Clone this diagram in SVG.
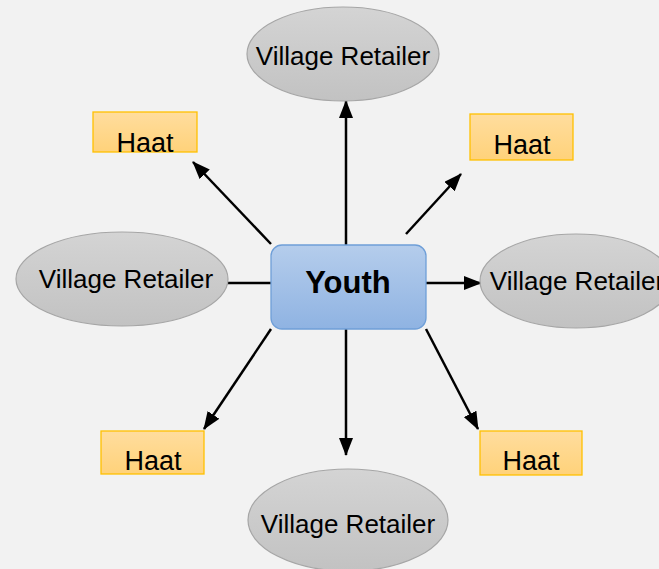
<svg xmlns="http://www.w3.org/2000/svg" width="659" height="569" viewBox="0 0 659 569">
<defs>
<linearGradient id="gGray" x1="0" y1="0" x2="0" y2="1"><stop offset="0" stop-color="#D4D4D4"/><stop offset="1" stop-color="#C2C2C2"/></linearGradient>
<linearGradient id="gOrange" x1="0" y1="0" x2="0" y2="1"><stop offset="0" stop-color="#FFDD9E"/><stop offset="1" stop-color="#FFD27A"/></linearGradient>
<linearGradient id="gBlue" x1="0" y1="0" x2="0" y2="1"><stop offset="0" stop-color="#B5CDEC"/><stop offset="1" stop-color="#8FB3E2"/></linearGradient>
<marker id="arr" markerUnits="userSpaceOnUse" markerWidth="18" markerHeight="14" viewBox="0 0 18 14" refX="17" refY="7" orient="auto"><path d="M0,0 L18,7 L0,14 Z" fill="#000"/></marker>
</defs>
<style>
.vr{fill:url(#gGray);stroke:#A6A6A6;stroke-width:1.2}
.hb{fill:url(#gOrange);stroke:#FFC000;stroke-width:1.3}
.t{font-family:"Liberation Sans",Arial,sans-serif;font-size:26px;fill:#000;text-anchor:middle}
.th{font-family:"Liberation Sans",Arial,sans-serif;font-size:27px;fill:#000;text-anchor:middle}
.c{stroke:#000;stroke-width:2.5;fill:none}
</style>
<rect width="659" height="569" fill="#F2F2F2"/>
<g id="connectors">
<line class="c" x1="346" y1="245" x2="346" y2="101" marker-end="url(#arr)"/>
<line class="c" x1="346" y1="329" x2="346" y2="455" marker-end="url(#arr)"/>
<line class="c" x1="426" y1="283" x2="481" y2="283" marker-end="url(#arr)"/>
<line class="c" x1="228" y1="283" x2="271" y2="283"/>
<line class="c" x1="271" y1="244" x2="193" y2="162" marker-end="url(#arr)"/>
<line class="c" x1="406" y1="234" x2="461" y2="174" marker-end="url(#arr)"/>
<line class="c" x1="271" y1="329" x2="204" y2="429" marker-end="url(#arr)"/>
<line class="c" x1="426" y1="329" x2="478" y2="429" marker-end="url(#arr)"/>
</g>
<g id="vr-top"><ellipse class="vr" cx="343" cy="54" rx="96" ry="47"/><text class="t" x="343" y="65">Village Retailer</text></g>
<g id="vr-left"><ellipse class="vr" cx="122" cy="279" rx="106" ry="47"/><text class="t" x="126" y="288">Village Retailer</text></g>
<g id="vr-right"><ellipse class="vr" cx="576" cy="281" rx="96" ry="47"/><text class="t" x="577" y="290">Village Retailer</text></g>
<g id="vr-bottom"><ellipse class="vr" cx="348" cy="520" rx="100" ry="51"/><text class="t" x="348" y="533">Village Retailer</text></g>
<g id="haat-tl"><rect class="hb" x="93" y="112" width="104" height="40"/><text class="th" x="145" y="152">Haat</text></g>
<g id="haat-tr"><rect class="hb" x="470" y="114" width="103" height="46"/><text class="th" x="522" y="154">Haat</text></g>
<g id="haat-bl"><rect class="hb" x="101" y="431" width="103" height="43"/><text class="th" x="153" y="470">Haat</text></g>
<g id="haat-br"><rect class="hb" x="480" y="431" width="102" height="44"/><text class="th" x="531" y="470">Haat</text></g>
<g id="youth"><rect x="271" y="245" width="155" height="84" rx="11" ry="11" fill="url(#gBlue)" stroke="#6F9FD8" stroke-width="1.3"/><text x="348" y="293" font-family="Liberation Sans,Arial,sans-serif" font-size="31" font-weight="bold" text-anchor="middle" fill="#000">Youth</text></g>
</svg>
